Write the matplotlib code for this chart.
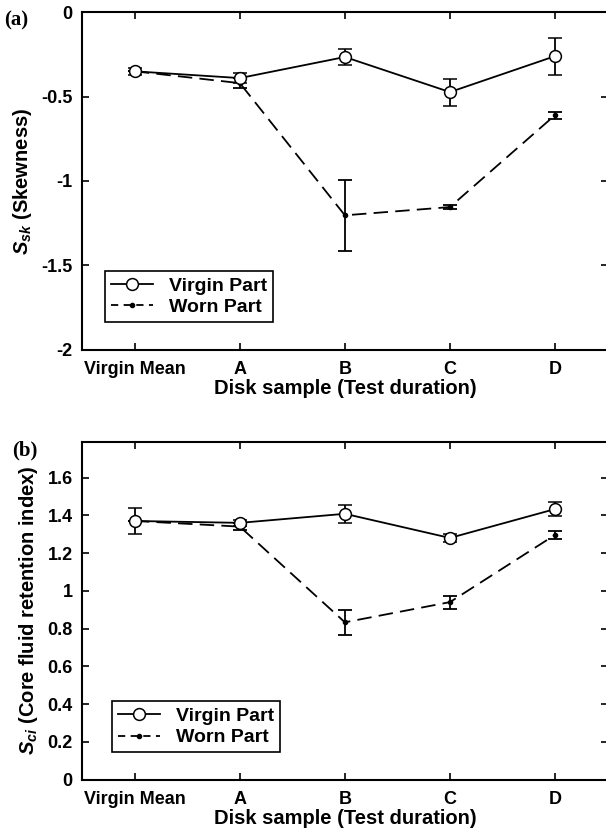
#Se importan librerias necesarias
import matplotlib
matplotlib.use("Agg")
from matplotlib import pyplot as plt
from matplotlib.lines import Line2D

#datos
muestras = ["Virgin Mean", "A", "B", "C", "D"]
x = [0, 1, 2, 3, 4]

#(a) Skewness
ssk_virgen = [-0.35, -0.39, -0.265, -0.473, -0.26]
ssk_virgen_err = [0.02, 0.03, 0.05, 0.08, 0.11]
ssk_usado = [-0.35, -0.42, -1.204, -1.155, -0.61]
ssk_usado_err = [0.0, 0.03, 0.21, 0.012, 0.02]

#(b) Core fluid retention index
sci_virgen = [1.37, 1.36, 1.408, 1.28, 1.433]
sci_virgen_err = [0.067, 0.015, 0.048, 0.02, 0.038]
sci_usado = [1.37, 1.34, 0.833, 0.94, 1.296]
sci_usado_err = [0.0, 0.02, 0.067, 0.035, 0.02]

plt.rcParams['font.family'] = ['Liberation Sans', 'DejaVu Sans']
plt.rcParams['font.weight'] = 'bold'
plt.rcParams['mathtext.fontset'] = 'custom'
plt.rcParams['mathtext.bfit'] = 'Liberation Sans:italic:bold'
plt.rcParams['mathtext.it'] = 'Liberation Sans:italic:bold'
plt.rcParams['mathtext.rm'] = 'Liberation Sans:bold'

fig = plt.figure(figsize=(6.06, 8.38), dpi=100)


def panel(pos, yv, ev, yw, ew, ylim, yticks, yticklabels, ylabel, letra, letra_xy, legend_pos):
    ax = fig.add_axes(pos)
    ax.errorbar(x, yv, yerr=ev, fmt='-o', color='k', mfc='white', mec='k',
                ms=8.5, mew=1.1, lw=1.3, elinewidth=1.3, capsize=5, capthick=1.3, zorder=3)
    ax.errorbar(x, yw, yerr=ew, fmt='--o', color='k', ms=3, lw=1.3,
                elinewidth=1.3, capsize=5, capthick=1.3, dashes=(8, 4), zorder=2)
    ax.set_xlim(-0.5, 4.5)
    ax.set_ylim(*ylim)
    ax.set_xticks(x)
    ax.set_xticklabels(muestras, fontsize=13, fontweight='bold')
    ax.set_yticks(yticks)
    ax.set_yticklabels(yticklabels, fontsize=13, fontweight='bold')
    ax.tick_params(direction='in', top=True, right=True, length=5, width=1.2)
    ax.tick_params(axis='x', pad=8)
    ax.tick_params(axis='y', pad=7)
    for s in ax.spines.values():
        s.set_linewidth(1.5)
    ax.set_xlabel("Disk sample (Test duration)", fontsize=14.5, fontweight='bold', labelpad=1)
    ax.set_ylabel(ylabel, fontsize=14.5, fontweight='bold', labelpad=5)
    #entradas de leyenda sin barras de error
    h1 = Line2D([], [], color='k', lw=1.3, marker='o', ms=8.5, mfc='white', mec='k', mew=1.1)
    h2 = Line2D([], [], color='k', lw=1.3, ls='--', dashes=(4, 3), marker='o', ms=3)
    leg = ax.legend([h1, h2], ["Virgin Part", "Worn Part"], loc='lower left',
                    bbox_to_anchor=legend_pos, prop={'size': 14, 'weight': 'bold'},
                    fancybox=False, edgecolor='k', framealpha=1, handlelength=2.2,
                    borderpad=0.3, labelspacing=0.2, handletextpad=0.8, borderaxespad=0)
    leg.get_frame().set_linewidth(1.2)
    fig.text(letra_xy[0], letra_xy[1], letra, family='Liberation Serif',
             fontweight='bold', fontsize=15, va='top', ha='left')
    return ax


#grafica (a)
panel([0.1358, 0.5829, 0.8667, 0.4024], ssk_virgen, ssk_virgen_err, ssk_usado, ssk_usado_err,
      (-2, 0), [-2, -1.5, -1, -0.5, 0], ["-2", "-1.5", "-1", "-0.5", "0"],
      r'$\mathbfit{S_{sk}}$ (Skewness)', "(a)", (0.006, 0.987), (0.043, 0.082))

#grafica (b)
panel([0.1358, 0.0698, 0.8667, 0.4031], sci_virgen, sci_virgen_err, sci_usado, sci_usado_err,
      (0, 1.79), [0, 0.2, 0.4, 0.6, 0.8, 1, 1.2, 1.4, 1.6],
      ["0", "0.2", "0.4", "0.6", "0.8", "1", "1.2", "1.4", "1.6"],
      r'$\mathbfit{S_{ci}}$ (Core fluid retention index)', "(b)", (0.02, 0.474), (0.056, 0.081))

plt.savefig("out.png", dpi=100)
